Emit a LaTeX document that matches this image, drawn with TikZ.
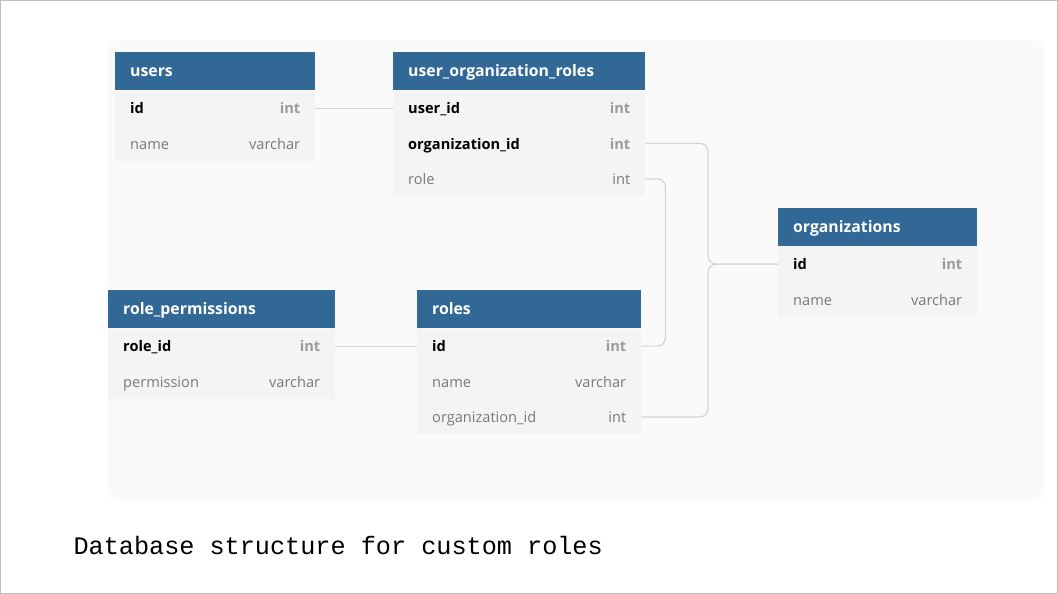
\documentclass[tikz,border=0pt]{standalone}
\usepackage{fontspec}
\setmainfont{Open Sans}
\newfontfamily\capfont{Liberation Mono}
\usetikzlibrary{positioning}
\definecolor{headblue}{RGB}{50,104,150}
\definecolor{rowfill}{RGB}{244,244,244}
\definecolor{panelfill}{RGB}{250,250,250}
\definecolor{linegray}{RGB}{212,212,212}
\definecolor{framegray}{RGB}{190,190,190}
\definecolor{keytype}{RGB}{155,155,155}
\definecolor{fieldgray}{RGB}{120,120,120}
\tikzset{
   tablehead/.style={
     fill=headblue, text=white, anchor=north west,
     font=\bfseries\fontsize{15.8}{18}\selectfont,
     inner xsep=15pt, inner ysep=0pt, minimum height=38pt, text width=#1,
     text height=13pt, text depth=1.6pt
   },
   tablerow/.style={
     fill=rowfill, text=fieldgray,
     font=\fontsize{14.6}{17}\selectfont,
     inner xsep=15pt, inner ysep=0pt, minimum height=35pt, text width=#1,
     text height=13pt, text depth=1.4pt
   },
   relline/.style={draw=linegray, line width=1.2pt, rounded corners=8pt}
}
\newcommand{\keyfield}[2]{\textcolor{black}{\bfseries #1}\hfill\textcolor{keytype}{\bfseries #2}}
\newcommand{\plainfield}[2]{#1\hfill #2}
\begin{document}
\begin{tikzpicture}[x=1pt,y=-1pt]
            \useasboundingbox (0,0) rectangle (1058,594);
            \draw[framegray] (0.5,0.5) rectangle (1057.5,593.5);
            \fill[panelfill, rounded corners=10pt] (108,40) rectangle (1044,500);

            % users
            \node[tablehead=170pt](users) at (115,52) {users};
            \node[tablerow=170pt, below=0pt of users](users-id) {\keyfield{id}{int}};
            \node[tablerow=170pt, below=0pt of users-id](users-name) {\plainfield{name}{varchar}};

            % user_organization_roles
            \node[tablehead=222pt](uor) at (393,52) {user\_organization\_roles};
            \node[tablerow=222pt, below=0pt of uor](uor-userid) {\keyfield{user\_id}{int}};
            \node[tablerow=222pt, below=0pt of uor-userid](uor-orgid) {\keyfield{organization\_id}{int}};
            \node[tablerow=222pt, below=0pt of uor-orgid](uor-role) {\plainfield{role}{int}};

            % organizations
            \node[tablehead=169pt](orgs) at (778,208) {organizations};
            \node[tablerow=169pt, below=0pt of orgs](orgs-id) {\keyfield{id}{int}};
            \node[tablerow=169pt, below=0pt of orgs-id](orgs-name) {\plainfield{name}{varchar}};

            % role_permissions
            \node[tablehead=197pt](perms) at (108,290) {role\_permissions};
            \node[tablerow=197pt, below=0pt of perms](perms-roleid) {\keyfield{role\_id}{int}};
            \node[tablerow=197pt, below=0pt of perms-roleid](perms-perm) {\plainfield{permission}{varchar}};

            % roles
            \node[tablehead=194pt](roles) at (417,290) {roles};
            \node[tablerow=194pt, below=0pt of roles](roles-id) {\keyfield{id}{int}};
            \node[tablerow=194pt, below=0pt of roles-id](roles-name) {\plainfield{name}{varchar}};
            \node[tablerow=194pt, below=0pt of roles-name](roles-orgid) {\plainfield{organization\_id}{int}};

            % relations
            \coordinate (orgbus) at ([xshift=-70pt]orgs-id.west);
            \coordinate (rolebus) at ([xshift=20pt]uor-role.east);
            \draw[relline] (users-id) -- (uor-userid);
            \draw[relline] (perms-roleid) -- (roles-id);
            \draw[relline] (uor-orgid.east) -| (orgbus) -- (orgs-id.west);
            \draw[relline] (roles-orgid.east) -| (orgbus) -- (orgs-id.west);
            \draw[relline] (uor-role.east) -- (rolebus) |- (roles-id.east);

            \node[font=\capfont\fontsize{25.2}{30}\selectfont, anchor=base west](caption) at (70,554) {Database structure for custom roles};
\end{tikzpicture}
\end{document}
